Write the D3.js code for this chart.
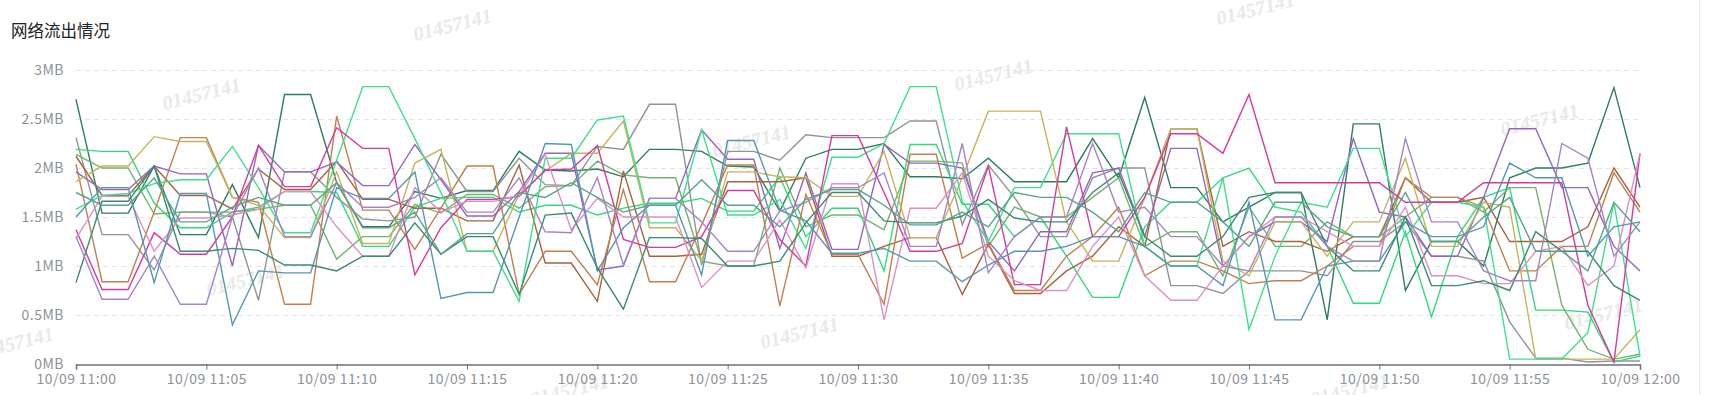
<!DOCTYPE html>
<head>
  <title>网络流出情况</title>
</head>
<meta charset="utf-8">

<script src="https://d3js.org/d3.v7.min.js"></script>

<div id="my_dataviz"></div>

<style>
body { margin: 0; background: #fff; }
.axis text { font-family: "Noto Sans CJK SC", "Noto Sans", sans-serif; font-size: 14px; fill: #8d9199; letter-spacing: 0.5px; }
.line { fill: none; stroke-width: 1.4px; }
</style>

<script>

// chart values (MB), one point per minute from 11:00 to 12:00
var yTicks = [0, 0.5, 1, 1.5, 2, 2.5, 3]
var yTickLabels = ["0MB", "0.5MB", "1MB", "1.5MB", "2MB", "2.5MB", "3MB"]

var s1 = [2.70,1.54,1.54,2.02,1.32,1.32,1.83,1.29,2.75,2.75, 1.85,1.40,1.40,1.76,1.69,1.77,1.77,2.17,1.98,1.97, 1.99,1.91,2.19,2.19,2.17,2.02,2.01,1.56,2.10,2.19, 2.19,2.25,1.91,1.91,1.89,2.10,1.86,1.86,1.86,2.30, 1.90,2.72,1.80,1.80,1.45,1.60,1.75,1.75,0.45,2.45, 2.45,0.75,1.25,1.25,1.00,1.90,2.00,2.00,2.05,2.82, 1.80]
var s2 = [2.31,1.32,1.32,0.96,1.55,1.55,1.50,0.65,1.96,1.96, 1.70,1.48,1.46,1.50,2.14,1.76,1.76,2.10,1.83,1.82, 2.22,2.19,2.65,2.65,1.01,2.17,2.17,2.08,2.34,2.31, 2.31,2.31,2.48,2.48,1.42,2.03,1.70,1.30,1.30,1.90, 2.00,2.00,0.80,0.80,0.72,0.95,0.95,0.95,0.90,1.25, 1.25,1.45,1.10,1.10,1.05,0.43,0.06,0.06,0.02,0.03, 0.03]
var s3 = [2.19,2.17,2.17,1.64,1.39,1.39,1.55,1.60,1.76,1.76, 1.75,1.20,1.20,1.60,1.69,1.70,1.70,1.55,1.62,1.62, 1.52,1.59,1.64,1.64,1.69,1.56,1.56,1.91,1.30,1.59, 1.59,0.95,2.24,2.24,1.63,1.63,1.30,1.50,1.10,0.68, 0.68,1.40,1.65,1.65,1.90,2.00,1.60,1.55,1.20,0.62, 0.62,1.35,0.48,1.30,1.70,1.80,0.55,0.55,0.53,0.02, 0.08]
var s4 = [2.14,2.00,2.00,1.53,1.55,1.55,1.55,1.58,1.62,1.62, 1.07,1.30,1.30,1.63,1.54,1.73,1.73,1.59,1.81,1.82, 2.07,1.93,1.90,1.90,1.05,1.00,1.00,2.00,1.40,1.52, 1.52,1.37,2.07,2.07,2.05,1.20,1.60,1.50,1.50,1.70, 1.90,1.20,1.35,1.35,0.90,1.60,1.20,1.20,1.45,1.30, 1.30,1.50,1.70,1.70,1.55,1.80,1.80,0.60,0.15,0.05, 0.10]
var s5 = [2.12,1.72,1.72,2.02,1.72,1.72,1.58,1.99,1.78,1.78, 2.07,1.68,1.68,1.59,1.59,1.46,1.46,2.03,1.03,1.03, 0.64,1.97,1.10,1.10,1.12,1.86,1.86,1.86,1.90,1.10, 1.10,1.20,1.29,1.29,0.71,1.22,0.72,0.72,0.95,1.10, 1.40,1.20,2.40,2.40,1.20,1.35,1.25,1.25,1.15,1.30, 1.30,1.90,1.65,1.65,1.70,1.25,1.25,1.25,1.40,2.00, 1.60]
var s6 = [2.04,0.84,0.84,1.55,2.31,2.31,1.70,1.65,0.61,0.61, 2.53,1.57,1.57,1.17,1.59,2.02,2.02,0.71,1.15,1.15, 0.81,1.78,0.84,0.84,1.42,2.03,2.03,0.59,1.73,1.12, 1.12,0.61,2.14,2.14,1.08,1.23,0.75,0.75,1.10,1.30, 1.60,0.90,1.05,1.05,0.95,0.82,0.85,0.85,1.00,1.20, 1.20,1.90,1.70,1.70,1.60,0.95,0.95,1.20,1.20,1.95, 1.55]
var s7 = [1.96,1.78,1.78,2.02,1.94,1.94,1.00,2.23,1.96,1.96, 2.06,1.82,1.82,2.24,1.88,1.51,1.51,1.76,2.15,2.15, 0.96,1.00,1.69,1.69,2.39,2.09,2.09,1.18,1.95,1.17, 1.17,2.24,2.05,2.05,2.00,1.25,0.95,1.35,1.35,1.95, 2.00,1.30,2.20,2.20,1.00,1.30,1.45,1.45,1.25,2.30, 1.55,1.50,1.10,1.10,1.70,2.40,2.40,1.80,1.80,1.20, 0.95]
var s8 = [1.86,2.02,2.02,2.32,2.27,2.27,1.70,1.62,1.29,1.29, 1.96,1.23,1.23,2.05,2.19,1.15,1.15,1.73,1.97,2.15, 2.15,2.48,1.39,1.39,1.05,1.96,1.96,1.91,1.90,1.71, 1.71,2.17,1.29,1.29,1.90,2.58,2.58,2.58,1.45,1.05, 1.05,1.70,2.40,2.40,1.05,0.90,1.45,1.45,1.10,1.45, 1.45,2.10,1.20,1.20,1.65,1.60,0.05,0.05,0.05,0.05, 0.35]
var s9 = [1.58,1.72,1.74,1.84,1.88,1.88,2.22,1.80,1.34,1.34, 2.08,2.83,2.83,2.30,1.75,1.15,1.15,0.64,2.10,2.10, 2.49,2.53,1.44,1.44,2.39,1.52,1.52,1.68,1.18,2.11, 2.11,2.25,2.83,2.83,1.66,1.25,1.80,1.80,2.35,2.35, 2.35,1.20,1.00,1.00,1.90,0.35,1.10,1.65,1.60,2.20, 2.20,1.30,1.65,1.65,1.60,0.05,0.05,0.05,0.32,1.65, 0.08]
var s10 = [1.37,0.76,0.76,1.34,1.12,1.12,1.50,2.23,1.81,1.81, 2.41,2.20,2.20,0.91,1.39,1.68,1.68,1.71,1.98,1.99, 2.23,1.27,1.19,1.19,1.30,1.77,1.77,1.27,1.00,2.33, 2.33,1.75,1.15,1.15,1.23,2.02,0.81,0.81,2.42,1.30, 1.30,1.70,2.35,2.35,2.15,2.75,1.85,1.85,1.85,1.85, 1.85,1.65,1.65,1.65,1.85,1.85,1.85,1.85,0.60,0.02, 2.15]
var s11 = [1.28,1.71,1.71,1.15,1.49,1.49,1.52,1.58,1.76,1.76, 1.40,1.10,1.10,1.80,1.55,1.66,1.66,1.72,2.14,1.37, 1.69,1.50,1.50,1.50,0.78,1.05,1.05,1.47,0.98,1.84, 1.84,0.45,1.59,1.59,1.95,1.10,0.85,0.75,0.75,1.20, 1.50,0.90,0.65,0.65,1.00,1.30,1.50,1.50,1.35,1.20, 1.20,1.60,0.90,0.90,0.82,0.82,1.15,1.20,0.80,1.00, 2.15]
var s12 = [1.50,1.80,1.80,0.83,1.74,1.74,0.40,0.95,0.93,0.93, 1.80,1.69,1.69,1.96,0.67,0.73,0.73,1.50,2.25,2.24, 0.95,1.39,1.62,1.62,0.91,2.28,2.28,1.57,1.46,1.13, 1.13,1.18,1.05,1.05,0.84,1.01,1.15,1.15,1.20,1.30, 1.30,1.20,1.00,1.00,0.80,1.65,0.45,0.45,1.00,1.05, 1.05,1.45,1.30,1.30,1.40,2.05,1.90,1.90,1.10,1.40, 1.45]
var s13 = [0.83,1.66,1.66,2.02,1.15,1.15,1.18,1.16,1.01,1.01, 0.95,1.10,1.10,1.44,1.12,1.30,1.30,0.71,1.52,1.54, 0.98,0.56,1.29,1.29,1.28,1.00,1.00,1.05,1.44,1.75, 1.75,1.46,1.44,1.44,1.51,1.68,1.49,1.45,1.45,1.75, 1.95,1.30,1.10,1.10,1.30,1.70,1.75,1.75,1.20,0.95, 0.95,1.50,0.80,0.80,0.85,0.75,1.35,1.15,1.15,0.80, 0.65]
var s14 = [1.30,0.66,0.66,1.10,0.61,0.61,1.50,2.00,1.30,1.30, 1.85,1.60,1.60,1.70,1.90,1.55,1.55,1.90,1.35,1.34, 1.90,1.01,1.69,1.69,1.45,1.15,1.15,1.56,1.65,1.80, 1.80,1.95,1.20,1.20,2.25,0.93,1.30,1.50,1.50,2.25, 1.55,1.60,1.30,1.30,1.00,0.95,1.50,1.50,1.20,1.05, 1.05,2.30,1.45,1.45,0.95,0.85,0.85,2.25,2.10,1.10, 1.45]
var s15 = [1.75,1.62,1.62,1.90,1.45,1.45,1.60,1.70,1.62,1.62, 1.85,1.39,1.39,1.55,1.12,1.33,1.33,1.75,1.70,1.85, 1.70,1.55,1.62,1.62,1.88,1.62,1.62,1.40,1.68,1.78, 1.78,1.62,1.42,1.42,1.55,1.40,1.75,1.70,1.70,1.55, 1.35,1.75,1.65,1.65,1.45,1.20,1.65,1.65,1.40,1.30, 1.30,1.75,1.25,1.25,1.50,1.70,1.15,1.15,0.95,1.65, 1.35]

var allSeries = [s1, s2, s3, s4, s5, s6, s7, s8, s9, s10, s11, s12, s13, s14, s15]
var seriesColors = ["#2e7d5e", "#8e9595", "#33d97a", "#72b46a", "#a8633a", "#c0804f", "#9466c0", "#c6b45a",
                    "#3fe08c", "#d43a9f", "#de8fc4", "#5497b5", "#3b8c70", "#a585c8", "#5aa58a"]

// watermark spots
var marks = [[453,27],[1256,11],[202,96],[994,77],[1540,122],[752,143],[246,282],[800,335],[1604,316],[1350,392],[15,345],[570,392]]

// one point per minute
var t0 = new Date(2024, 9, 9, 11, 0)
var t1 = new Date(2024, 9, 9, 12, 0)
var times = d3.timeMinutes(t0, d3.timeMinute.offset(t1, 1))

// set the dimensions and margins of the graph
var margin = {top: 70, right: 73, bottom: 31, left: 76},
    width = 1713 - margin.left - margin.right,
    height = 395 - margin.top - margin.bottom;

var root = d3.select("#my_dataviz")
  .append("svg")
    .attr("width", 1713)
    .attr("height", 395)

// card border on the right
root.append("line")
  .attr("x1", 1699.5).attr("x2", 1699.5)
  .attr("y1", 0).attr("y2", 395)
  .attr("stroke", "#ececec")

// title
root.append("text")
  .attr("x", 11)
  .attr("y", 37)
  .text("网络流出情况")
  .style("font-family", "'Noto Sans CJK SC', sans-serif")
  .style("font-size", "16.5px")
  .style("fill", "#222")

// watermark
root.append("g")
  .selectAll("text")
  .data(marks)
  .enter()
  .append("text")
    .attr("transform", function(d){ return "translate(" + d[0] + "," + d[1] + ") rotate(-14)" })
    .attr("text-anchor", "middle")
    .attr("dominant-baseline", "middle")
    .text("01457141")
    .style("font-family", "'Liberation Serif', serif")
    .style("font-weight", "bold")
    .style("font-style", "italic")
    .style("font-size", "20px")
    .style("fill", "#e9e9e9")

var svg = root.append("g")
    .attr("transform", "translate(" + margin.left + "," + margin.top + ")");

// X scale
var x = d3.scaleTime()
  .domain([t0, t1])
  .range([0, width])

// Y scale
var y = d3.scaleLinear()
  .domain([0, 3])
  .range([height, 0])

// dashed grid lines
svg.append("g")
  .selectAll("line")
  .data(yTicks.slice(1))
  .enter()
  .append("line")
    .attr("x1", 0)
    .attr("x2", width)
    .attr("y1", function(d){ return Math.round(y(d)) + 0.5 })
    .attr("y2", function(d){ return Math.round(y(d)) + 0.5 })
    .attr("stroke", "#e0e6f1")
    .style("stroke-dasharray", "5,4")

// Y axis labels only
svg.append("g")
  .attr("class", "axis")
  .call(d3.axisLeft(y).tickValues(yTicks).tickSize(0).tickPadding(12)
    .tickFormat(function(d, i){ return yTickLabels[i] }))
  .call(function(g){ g.select(".domain").remove() })

// lines
var line = d3.line()
  .x(function(d, i){ return x(times[i]) })
  .y(function(d){ return y(d) })

svg.append("g")
  .selectAll("path")
  .data(allSeries)
  .enter()
  .append("path")
    .attr("class", "line")
    .attr("d", line)
    .attr("stroke", function(d, i){ return seriesColors[i] })

// X axis
var xAxis = svg.append("g")
  .attr("class", "axis")
  .attr("transform", "translate(0," + (Math.round(height) + 0.5) + ")")
  .call(d3.axisBottom(x).ticks(d3.timeMinute.every(5)).tickSize(5).tickPadding(5)
    .tickFormat(d3.timeFormat("%m/%d %H:%M")))
xAxis.select(".domain").attr("stroke", "#6e7079").attr("stroke-width", 1.5)
xAxis.selectAll(".tick line").attr("stroke", "#6e7079")

</script>
